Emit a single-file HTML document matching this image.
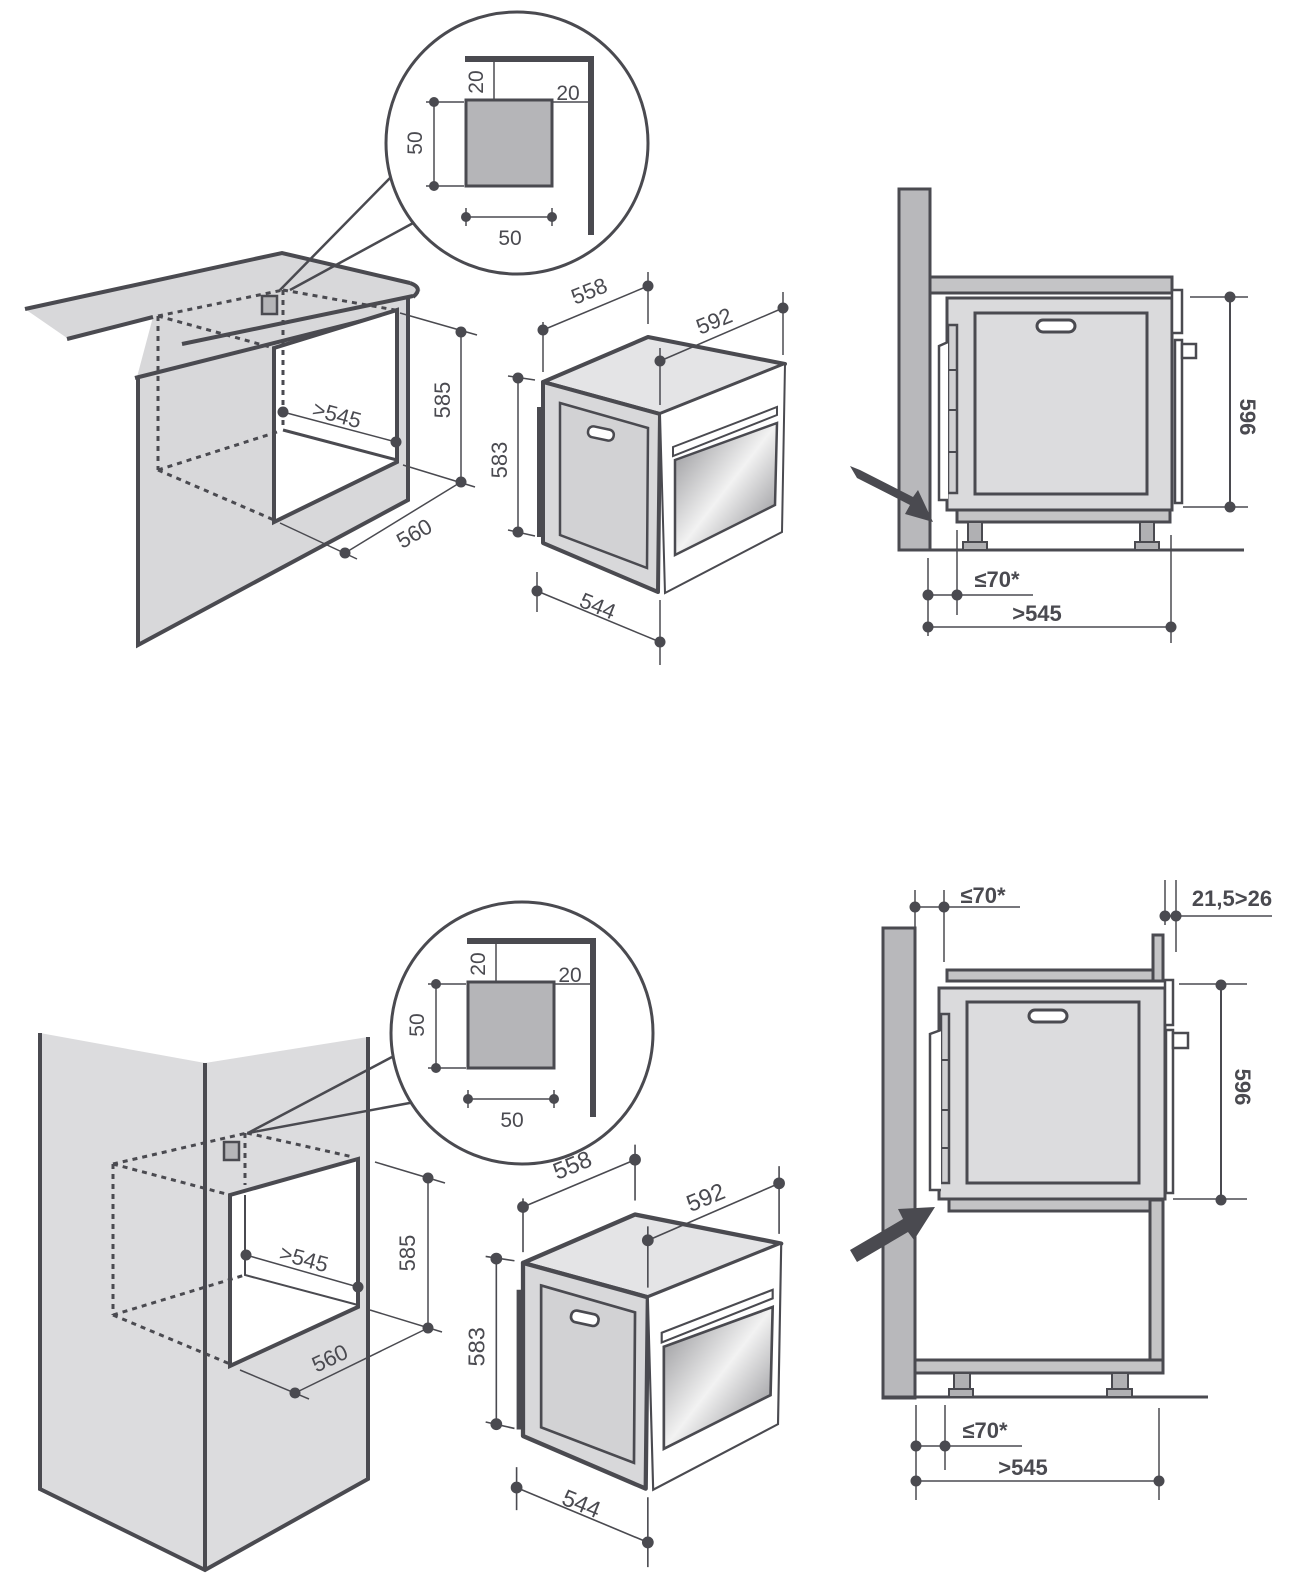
<!DOCTYPE html>
<html><head><meta charset="utf-8"><style>
html,body{margin:0;padding:0;background:#fff;}
svg{display:block;}
text{font-family:"Liberation Sans",Arial,sans-serif;fill:#4a4a50;}
</style></head><body>
<svg width="1309" height="1596" viewBox="0 0 1309 1596" xmlns="http://www.w3.org/2000/svg">
<defs>
<linearGradient id="gl" x1="0" y1="0" x2="1" y2="1">
<stop offset="0" stop-color="#8a8a8e"/><stop offset="0.5" stop-color="#f2f2f2"/><stop offset="1" stop-color="#7d7d82"/>
</linearGradient>
<g id="circ">
<path d="M465 59 H591 V235" fill="none" stroke="#4a4a50" stroke-width="6"/>
<rect x="466" y="100" width="86" height="86" fill="#b5b5b8" stroke="#4a4a50" stroke-width="3"/>
<line x1="494" y1="62" x2="494" y2="100" stroke="#4a4a50" stroke-width="1.5"/>
<line x1="552" y1="102" x2="590" y2="102" stroke="#4a4a50" stroke-width="1.5"/>
<text x="483" y="82" font-size="21" transform="rotate(-90 483 82)" text-anchor="middle">20</text>
<text x="568" y="100" font-size="21" text-anchor="middle">20</text>
<line x1="434" y1="102" x2="434" y2="186" stroke="#4a4a50" stroke-width="1.5"/>
<line x1="426" y1="102" x2="464" y2="102" stroke="#4a4a50" stroke-width="1.5"/>
<line x1="426" y1="186" x2="464" y2="186" stroke="#4a4a50" stroke-width="1.5"/>
<circle cx="434" cy="102" r="5" fill="#4a4a50"/><circle cx="434" cy="186" r="5" fill="#4a4a50"/>
<text x="422" y="143" font-size="21" transform="rotate(-90 422 143)" text-anchor="middle">50</text>
<line x1="466" y1="217" x2="552" y2="217" stroke="#4a4a50" stroke-width="1.5"/>
<line x1="466" y1="208" x2="466" y2="226" stroke="#4a4a50" stroke-width="1.5"/>
<line x1="552" y1="208" x2="552" y2="226" stroke="#4a4a50" stroke-width="1.5"/>
<circle cx="466" cy="217" r="5" fill="#4a4a50"/><circle cx="552" cy="217" r="5" fill="#4a4a50"/>
<text x="510" y="245" font-size="21" text-anchor="middle">50</text>
</g>
<g id="oven">
<polygon points="537,407 543,407 543,537 537,537" fill="#4a4a50"/>
<polygon points="543,382 648,337 785,364 660,414" fill="#e4e4e6" stroke="#4a4a50" stroke-width="4" stroke-linejoin="round"/>
<polygon points="543,382 660,414 658,592 543,543" fill="#d8d8da" stroke="#4a4a50" stroke-width="4" stroke-linejoin="round"/>
<polygon points="560,403 648,428 647,568 560,535" fill="#d2d2d4" stroke="#4a4a50" stroke-width="2.5"/>
<rect x="588" y="428" width="26" height="11" rx="5" fill="#fff" stroke="#4a4a50" stroke-width="2.5" transform="rotate(12 601 433)"/>
<polygon points="660,414 785,364 782,532 665,593" fill="#fff" stroke="#4a4a50" stroke-width="2"/>
<polygon points="673,447 777,407 777,415 673,456" fill="#fff" stroke="#4a4a50" stroke-width="2"/>
<polygon points="675,460 777,423 775,505 675,555" fill="url(#gl)" stroke="#4a4a50" stroke-width="2.5"/>
</g>
<g id="ovendims" stroke="#4a4a50" stroke-width="1.5">
<line x1="543" y1="322" x2="543" y2="372"/><line x1="648" y1="272" x2="648" y2="324"/><line x1="543" y1="330" x2="648" y2="286"/>
<line x1="660" y1="348" x2="660" y2="405"/><line x1="783" y1="292" x2="783" y2="355"/><line x1="660" y1="361" x2="783" y2="308"/>
<line x1="518" y1="378" x2="518" y2="532"/><line x1="508" y1="376" x2="535" y2="380"/><line x1="508" y1="530" x2="535" y2="536"/>
<line x1="537" y1="572" x2="537" y2="612"/><line x1="660" y1="600" x2="660" y2="665"/><line x1="537" y1="591" x2="660" y2="642"/>
<g fill="#4a4a50" stroke="none">
<circle cx="543" cy="330" r="5.5"/><circle cx="648" cy="286" r="5.5"/><circle cx="660" cy="361" r="5.5"/><circle cx="783" cy="308" r="5.5"/>
<circle cx="518" cy="378" r="5.5"/><circle cx="518" cy="532" r="5.5"/><circle cx="537" cy="591" r="5.5"/><circle cx="660" cy="642" r="5.5"/>
</g>
<g font-size="22" stroke="none">
<text x="592" y="298" transform="rotate(-22 592 298)" text-anchor="middle">558</text>
<text x="717" y="328" transform="rotate(-22 717 328)" text-anchor="middle">592</text>
<text x="507" y="460" transform="rotate(-90 507 460)" text-anchor="middle">583</text>
<text x="595" y="613" transform="rotate(22 595 613)" text-anchor="middle">544</text>
</g>
</g>
</defs>

<g stroke="#4a4a50" fill="none">
<!-- ===== TOP LEFT ===== -->
<polygon points="25,309 282,253 410,283 421,290 413,297 397,312 137,377 153,317 67,338" fill="#d8d8da" stroke="none"/>
<polygon points="137,377 397,312 410,298 410,500 138,645" fill="#d8d8da" stroke="none"/>
<polyline points="25,309 282,253 410,283" stroke-width="4"/>
<path d="M410,283 Q424,288 413,297" stroke-width="4"/>
<line x1="67" y1="339" x2="153" y2="317" stroke-width="4"/>
<line x1="182" y1="344" x2="413" y2="296" stroke-width="4"/>
<line x1="135" y1="378" x2="397" y2="312" stroke-width="4"/>
<polyline points="138,378 138,645 408,500 408,298" stroke-width="4"/>
<polygon points="274,348 397,310 397,462 274,522" fill="#fff" stroke-width="4"/>
<g stroke-width="3" stroke-dasharray="5,5">
<line x1="158" y1="316" x2="158" y2="470"/>
<line x1="158" y1="470" x2="277" y2="432"/>
<line x1="158" y1="470" x2="274" y2="520"/>
<line x1="158" y1="316" x2="270" y2="347"/>
<line x1="158" y1="316" x2="283" y2="290"/>
<line x1="283" y1="290" x2="395" y2="310"/>
<line x1="283" y1="290" x2="283" y2="430"/>
</g>
<line x1="283" y1="430" x2="397" y2="460" stroke-width="3"/>
<rect x="262" y="296" width="15" height="18" fill="#b5b5b8" stroke-width="2.5"/>
<line x1="280" y1="290" x2="390" y2="178" stroke-width="2.5"/>
<line x1="290" y1="290" x2="415" y2="222" stroke-width="2.5"/>
<circle cx="517" cy="143" r="131" fill="#fff" stroke-width="3"/>
<g stroke-width="1.5">
<line x1="283" y1="412" x2="396" y2="442"/>
<line x1="400" y1="313" x2="477" y2="335"/>
<line x1="403" y1="465" x2="475" y2="487"/>
<line x1="461" y1="330" x2="461" y2="482"/>
<line x1="345" y1="553" x2="461" y2="482"/>
<line x1="280" y1="523" x2="357" y2="559"/>
</g>

<!-- ===== TOP RIGHT ===== -->
<rect x="899" y="189" width="31" height="361" fill="#b8b8bb" stroke-width="3"/>
<line x1="898" y1="550" x2="1244" y2="550" stroke-width="3"/>
<rect x="930" y="277" width="242" height="16" fill="#c4c4c6" stroke-width="3"/>
<rect x="947" y="298" width="225" height="212" fill="#dadadc" stroke-width="3"/>
<rect x="975" y="313" width="172" height="181" fill="#dcdcde" stroke-width="3"/>
<rect x="1037" y="320" width="38" height="12" rx="6" fill="#fff" stroke-width="3"/>
<rect x="1172" y="290" width="10" height="43" fill="#fff" stroke-width="2.5"/>
<rect x="1175" y="340" width="7" height="163" fill="#fff" stroke-width="2.5"/>
<rect x="1182" y="344" width="14" height="14" fill="#fff" stroke-width="2.5"/>
<rect x="948" y="325" width="9" height="168" fill="#d0d0d2" stroke-width="2.5"/>
<line x1="948" y1="370" x2="957" y2="370" stroke-width="2"/><line x1="948" y1="410" x2="957" y2="410" stroke-width="2"/><line x1="948" y1="452" x2="957" y2="452" stroke-width="2"/>
<polyline points="948,342 939,346 939,500 948,500" fill="#fff" stroke-width="2.5"/>
<rect x="957" y="510" width="213" height="12" fill="#c4c4c6" stroke-width="3"/>
<rect x="968" y="522" width="14" height="21" fill="#b0b0b3" stroke-width="2"/>
<rect x="963" y="542" width="24" height="8" fill="#b0b0b3" stroke-width="2"/>
<rect x="1140" y="522" width="14" height="21" fill="#b0b0b3" stroke-width="2"/>
<rect x="1135" y="542" width="24" height="8" fill="#b0b0b3" stroke-width="2"/>
<g stroke-width="1.5">
<line x1="1190" y1="297" x2="1248" y2="297"/><line x1="1183" y1="507" x2="1248" y2="507"/>
<line x1="1230" y1="297" x2="1230" y2="507" stroke-width="2"/>
<line x1="928" y1="558" x2="928" y2="636"/><line x1="957" y1="530" x2="957" y2="615"/><line x1="1171" y1="535" x2="1171" y2="643"/>
<line x1="928" y1="595" x2="1033" y2="595"/><line x1="928" y1="627" x2="1171" y2="627"/>
</g>

<!-- ===== BOTTOM LEFT ===== -->
<polygon points="40,1033 205,1063 205,1570 40,1489" fill="#dcdcde" stroke="none"/>
<polygon points="205,1063 368,1037 368,1479 205,1570" fill="#dcdcde" stroke="none"/>
<polyline points="40,1033 40,1489 205,1570 368,1479 368,1037" stroke-width="4"/>
<line x1="205" y1="1063" x2="205" y2="1570" stroke-width="4"/>
<polygon points="230,1195 358,1159 358,1307 230,1366" fill="#fff" stroke-width="4"/>
<g stroke-width="3" stroke-dasharray="5,5">
<line x1="113" y1="1164" x2="247" y2="1133"/>
<line x1="247" y1="1133" x2="353" y2="1157"/>
<line x1="113" y1="1164" x2="230" y2="1195"/>
<line x1="113" y1="1164" x2="113" y2="1315"/>
<line x1="113" y1="1315" x2="230" y2="1364"/>
<line x1="113" y1="1315" x2="245" y2="1275"/>
<line x1="245" y1="1133" x2="245" y2="1185"/>
</g>
<polyline points="245,1195 245,1275 358,1305" stroke-width="2"/>
<rect x="224" y="1142" width="15" height="18" fill="#b5b5b8" stroke-width="2.5"/>
<line x1="248" y1="1133" x2="392" y2="1057" stroke-width="2.5"/>
<line x1="248" y1="1133" x2="415" y2="1102" stroke-width="2.5"/>
<circle cx="522" cy="1033" r="131" fill="#fff" stroke-width="3"/>
<g stroke-width="1.5">
<line x1="246" y1="1255" x2="358" y2="1287"/>
<line x1="375" y1="1162" x2="445" y2="1183"/><line x1="370" y1="1310" x2="442" y2="1332"/>
<line x1="428" y1="1178" x2="428" y2="1328"/>
<line x1="295" y1="1393" x2="428" y2="1328"/>
<line x1="240" y1="1370" x2="309" y2="1399"/>
</g>

<!-- ===== BOTTOM RIGHT ===== -->
<rect x="883" y="928" width="32" height="470" fill="#b8b8bb" stroke-width="3"/>
<line x1="883" y1="1397" x2="1208" y2="1397" stroke-width="3"/>
<rect x="1153" y="935" width="10" height="46" fill="#c4c4c6" stroke-width="3"/>
<rect x="947" y="970" width="206" height="11" fill="#c4c4c6" stroke-width="3"/>
<rect x="939" y="988" width="226" height="211" fill="#dadadc" stroke-width="3"/>
<rect x="967" y="1002" width="172" height="181" fill="#dcdcde" stroke-width="3"/>
<rect x="1029" y="1010" width="38" height="12" rx="6" fill="#fff" stroke-width="3"/>
<rect x="1165" y="980" width="8" height="45" fill="#fff" stroke-width="2.5"/>
<rect x="1166" y="1030" width="7" height="163" fill="#fff" stroke-width="2.5"/>
<rect x="1173" y="1033" width="15" height="15" fill="#fff" stroke-width="2.5"/>
<rect x="941" y="1014" width="8" height="169" fill="#d0d0d2" stroke-width="2.5"/>
<line x1="941" y1="1060" x2="949" y2="1060" stroke-width="2"/><line x1="941" y1="1110" x2="949" y2="1110" stroke-width="2"/><line x1="941" y1="1148" x2="949" y2="1148" stroke-width="2"/>
<polyline points="941,1030 930,1034 930,1190 941,1190" fill="#fff" stroke-width="2.5"/>
<rect x="949" y="1199" width="201" height="12" fill="#c4c4c6" stroke-width="3"/>
<rect x="1150" y="1200" width="13" height="173" fill="#c4c4c6" stroke-width="3"/>
<rect x="915" y="1360" width="248" height="13" fill="#c4c4c6" stroke-width="3"/>
<rect x="954" y="1373" width="16" height="17" fill="#b0b0b3" stroke-width="2"/>
<rect x="949" y="1389" width="24" height="8" fill="#b0b0b3" stroke-width="2"/>
<rect x="1112" y="1373" width="16" height="17" fill="#b0b0b3" stroke-width="2"/>
<rect x="1107" y="1389" width="25" height="8" fill="#b0b0b3" stroke-width="2"/>
<g stroke-width="1.5">
<line x1="915" y1="890" x2="915" y2="935"/><line x1="944" y1="890" x2="944" y2="962"/>
<line x1="915" y1="907" x2="1020" y2="907"/>
<line x1="1165" y1="880" x2="1165" y2="925"/><line x1="1176" y1="880" x2="1176" y2="952"/>
<line x1="1165" y1="916" x2="1272" y2="916"/>
<line x1="1179" y1="984" x2="1247" y2="984"/><line x1="1173" y1="1199" x2="1247" y2="1199"/>
<line x1="1221" y1="985" x2="1221" y2="1200" stroke-width="2"/>
<line x1="916" y1="1405" x2="916" y2="1500"/><line x1="945" y1="1405" x2="945" y2="1470"/><line x1="1159" y1="1408" x2="1159" y2="1500"/>
<line x1="916" y1="1446" x2="1022" y2="1446"/><line x1="916" y1="1481" x2="1159" y2="1481"/>
</g>
</g>

<!-- arrows -->
<g fill="#4a4a50">
<polygon points="850,466 857,478 910,505 905,514 933,522 918,490 913,497 860,470"/>
<polygon points="850,1250 857,1262 908,1232 914,1240 935,1207 898,1209 903,1219"/>
</g>

<!-- circles content -->
<use href="#circ"/>
<use href="#circ" transform="translate(2,882)"/>

<!-- ovens -->
<use href="#oven"/>
<use href="#ovendims"/>
<g transform="translate(523,1207) scale(1.067,1.075) translate(-543,-330)">
<use href="#oven"/>
<use href="#ovendims"/>
</g>

<!-- dots -->
<g fill="#4a4a50">
<circle cx="283" cy="412" r="5.5"/><circle cx="396" cy="442" r="5.5"/>
<circle cx="461" cy="332" r="5.5"/><circle cx="461" cy="482" r="5.5"/><circle cx="345" cy="553" r="5.5"/>
<circle cx="1230" cy="297" r="5.5"/><circle cx="1230" cy="507" r="5.5"/>
<circle cx="928" cy="595" r="5.5"/><circle cx="957" cy="595" r="5.5"/><circle cx="928" cy="627" r="5.5"/><circle cx="1171" cy="627" r="5.5"/>
<circle cx="246" cy="1255" r="5.5"/><circle cx="358" cy="1287" r="5.5"/>
<circle cx="428" cy="1178" r="5.5"/><circle cx="428" cy="1328" r="5.5"/><circle cx="295" cy="1393" r="5.5"/>
<circle cx="915" cy="907" r="5.5"/><circle cx="944" cy="907" r="5.5"/><circle cx="1165" cy="916" r="5.5"/><circle cx="1176" cy="916" r="5.5"/>
<circle cx="1221" cy="985" r="5.5"/><circle cx="1221" cy="1200" r="5.5"/>
<circle cx="916" cy="1446" r="5.5"/><circle cx="945" cy="1446" r="5.5"/><circle cx="916" cy="1481" r="5.5"/><circle cx="1159" cy="1481" r="5.5"/>
</g>

<!-- texts -->
<g font-size="22">
<text x="335" y="422" transform="rotate(15 335 422)" text-anchor="middle">&gt;545</text>
<text x="450" y="400" transform="rotate(-90 450 400)" text-anchor="middle">585</text>
<text x="418" y="540" transform="rotate(-30 418 540)" text-anchor="middle">560</text>
<text x="302" y="1266" transform="rotate(15 302 1266)" text-anchor="middle">&gt;545</text>
<text x="415" y="1253" transform="rotate(-90 415 1253)" text-anchor="middle">585</text>
<text x="333" y="1365" transform="rotate(-25 333 1365)" text-anchor="middle">560</text>
</g>
<g font-size="22" font-weight="bold">
<text x="1240" y="417" transform="rotate(90 1240 417)" text-anchor="middle">596</text>
<text x="997" y="587" text-anchor="middle">≤70*</text>
<text x="1037" y="621" text-anchor="middle">&gt;545</text>
<text x="983" y="903" text-anchor="middle">≤70*</text>
<text x="1232" y="906" text-anchor="middle">21,5&gt;26</text>
<text x="1235" y="1087" transform="rotate(90 1235 1087)" text-anchor="middle">596</text>
<text x="985" y="1438" text-anchor="middle">≤70*</text>
<text x="1023" y="1475" text-anchor="middle">&gt;545</text>
</g>
</svg>
</body></html>
